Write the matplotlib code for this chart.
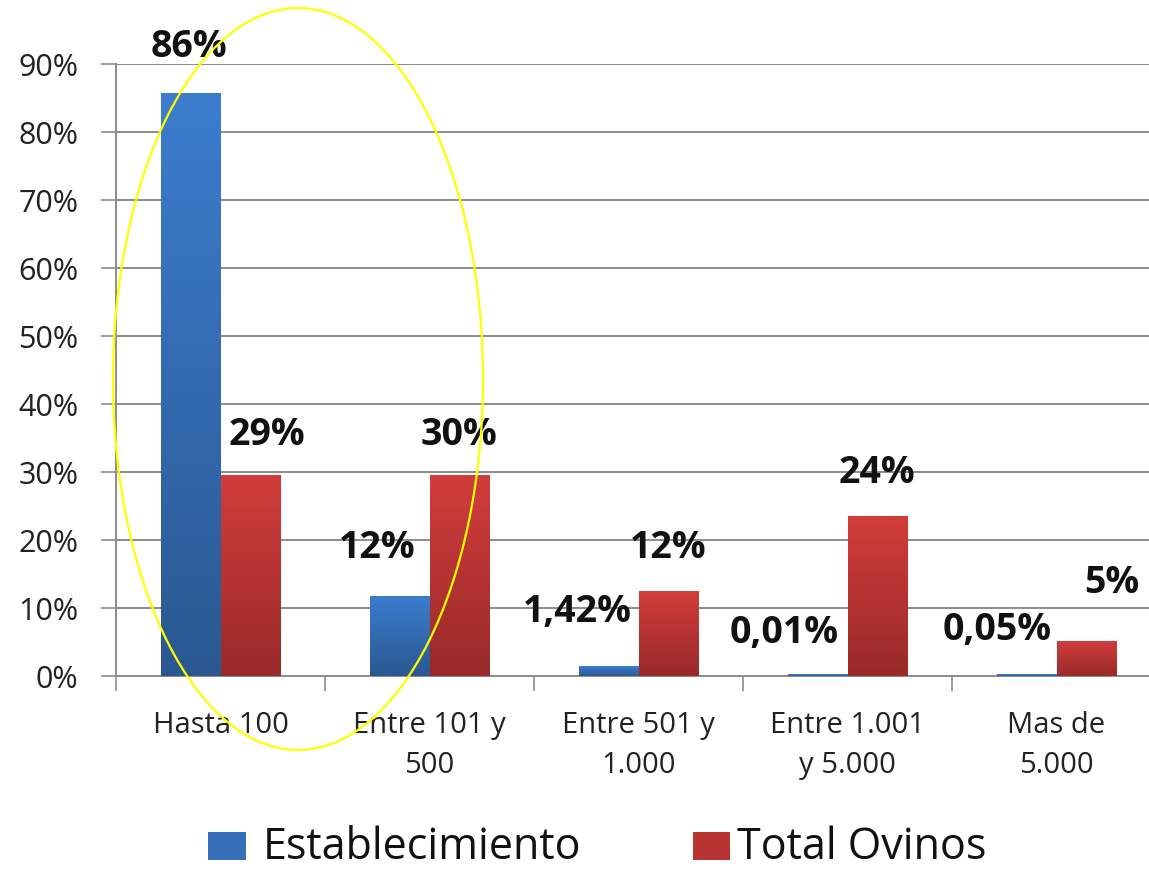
import numpy as np
import matplotlib
matplotlib.use('Agg')
import matplotlib.pyplot as plt
from matplotlib.patches import Ellipse, Rectangle

categories = ['Hasta 100', 'Entre 101 y\n500', 'Entre 501 y\n1.000', 'Entre 1.001\ny 5.000', 'Mas de\n5.000']
establecimiento = [85.7, 11.8, 1.42, 0.25, 0.25]
total_ovinos = [29.5, 29.5, 12.5, 23.6, 5.1]
est_labels = ['86%', '12%', '1,42%', '0,01%', '0,05%']
ovi_labels = ['29%', '30%', '12%', '24%', '5%']

# label offsets (category units, percent) - placed by hand in the original
est_off = [(-0.01, 6.8), (-0.11, 7.0), (-0.15, 8.0), (-0.16, 6.0), (-0.14, 6.5)]
ovi_off = [(0.08, 5.9), (0.0, 5.9), (0.0, 6.3), (0.0, 6.3), (0.12, 8.6)]

plt.rcParams['font.family'] = ['Open Sans', 'DejaVu Sans']

fig = plt.figure(figsize=(11.49, 8.69), dpi=100)
ax = fig.add_axes([116/1149, 1 - 676/869, 1045/1149, 612/869])

x = np.arange(len(categories))
w = 0.285

def gradient_bars(xs, heights, top, bottom):
    bars = ax.bar(xs, heights, w, color=top, zorder=3, linewidth=0)
    grad = np.linspace(0, 1, 256).reshape(-1, 1)
    cmap = matplotlib.colors.LinearSegmentedColormap.from_list('g', [bottom, top])
    for b in bars:
        x0, y0 = b.get_x(), b.get_y()
        im = ax.imshow(grad, extent=[x0, x0 + b.get_width(), y0, y0 + b.get_height()],
                       origin='lower', aspect='auto', cmap=cmap, zorder=3.5)
        im.set_clip_path(b)
    return bars

gradient_bars(x - w / 2, establecimiento, '#3c7dcf', '#2b5891')
gradient_bars(x + w / 2, total_ovinos, '#d23d3b', '#982a29')

for i in range(len(categories)):
    ax.text(x[i] - w / 2 + est_off[i][0], establecimiento[i] + est_off[i][1], est_labels[i],
            ha='center', va='center', fontsize=27, fontweight='bold', color='#111111', zorder=5)
    ax.text(x[i] + w / 2 + ovi_off[i][0], total_ovinos[i] + ovi_off[i][1], ovi_labels[i],
            ha='center', va='center', fontsize=27, fontweight='bold', color='#111111', zorder=5)

ax.set_xlim(-0.5, len(categories) - 0.5)
ax.set_ylim(0, 90)
ax.set_yticks(np.arange(0, 91, 10))
ax.set_yticklabels([f'{v}%' for v in range(0, 91, 10)], fontsize=22, color='#222222')
ax.yaxis.grid(True, color='#8c8c8c', linewidth=1.4, zorder=0)
ax.set_axisbelow(True)
ax.tick_params(axis='y', length=11, width=1.2, color='#8c8c8c', pad=16)

ax.set_xticks(x)
ax.set_xticklabels(categories, fontsize=21, color='#222222', linespacing=1.5)
ax.set_xticks(np.arange(-0.5, len(categories), 1), minor=True)
ax.tick_params(axis='x', which='major', length=0, pad=25)
ax.tick_params(axis='x', which='minor', length=11, width=1.2, color='#8c8c8c')

for s in ['top', 'right']:
    ax.spines[s].set_visible(False)
for s in ['left', 'bottom']:
    ax.spines[s].set_color('#8c8c8c')
    ax.spines[s].set_linewidth(1.4)

# legend drawn by hand at the bottom
fig.patches.append(Rectangle((208/1149, 1 - 860/869), 38/1149, 28/869, transform=fig.transFigure,
                             facecolor='#3570b8', edgecolor='none'))
fig.text(263/1149, 1 - 859/869, 'Establecimiento', fontsize=31, va='baseline', ha='left', color='#111111')
fig.patches.append(Rectangle((693/1149, 1 - 860/869), 37/1149, 28/869, transform=fig.transFigure,
                             facecolor='#b83433', edgecolor='none'))
fig.text(737/1149, 1 - 859/869, 'Total Ovinos', fontsize=31, va='baseline', ha='left', color='#111111')

# yellow ellipse highlighting the first group
fig.patches.append(Ellipse((298/1149, 1 - 379/869), 370/1149, 742/869, transform=fig.transFigure,
                           facecolor='none', edgecolor='#ffff00', linewidth=1.6, zorder=10))

fig.savefig('out.png', dpi=100)
